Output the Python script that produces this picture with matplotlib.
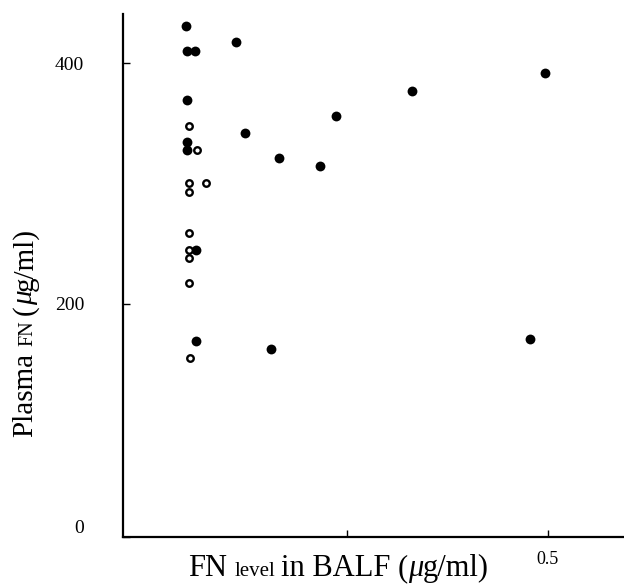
import matplotlib

matplotlib.use("Agg")
import matplotlib.pyplot as plt

W, H = 624, 587

# patients with FN detected in BALF (filled) and the others (open)
filled_x = [0.049, 0.050, 0.060, 0.111, 0.050, 0.1225, 0.050, 0.050, 0.164,
            0.216, 0.236, 0.330, 0.496, 0.061, 0.061, 0.155, 0.4775]
filled_y = [430.7, 410.0, 410.0, 417.4, 369.3, 341.9, 334.4, 327.8, 321.2,
            314.5, 356.0, 376.8, 391.7, 244.8, 169.3, 162.7, 171.0]
open_x = [0.0525, 0.0625, 0.0525, 0.0525, 0.074, 0.0525, 0.0525, 0.0525, 0.0525, 0.054]
open_y = [347.7, 327.8, 300.4, 293.0, 300.4, 258.9, 244.8, 238.2, 217.4, 155.2]

x_ticks = [0.25, 0.5]
x_tick_labels = ["", "0.5"]
y_ticks = [6, 200, 400]
y_tick_labels = ["0", "200", "400"]

plt.rcParams["font.family"] = ["Liberation Serif", "DejaVu Serif"]

fig = plt.figure(figsize=(W / 100, H / 100), dpi=100)
ax = fig.add_axes([123 / W, 50 / H, 501 / W, 523 / H])

ax.scatter(filled_x, filled_y, s=50, c="black", linewidths=0, zorder=3)
ax.scatter(open_x, open_y, s=22, facecolors="white", edgecolors="black",
           linewidths=1.7, zorder=3)

ax.set_xlim(-0.03, 0.595)
ax.set_ylim(6, 441)
ax.spines[["top", "right"]].set_visible(False)
for side in ("left", "bottom"):
    ax.spines[side].set_linewidth(1.6)

ax.set_xticks(x_ticks, x_tick_labels, fontsize=13)
ax.set_yticks(y_ticks, y_tick_labels, fontsize=14)
ax.tick_params(axis="both", direction="in", length=5, width=1)
ax.tick_params(axis="x", pad=10)
ax.tick_params(axis="y", pad=28)
# the "0" sits a little above the axis corner in the original
ax.get_yticklabels()[0].set_verticalalignment("bottom")


def rich_label(pieces, x, y, rotation=0):
    """Draw pieces of text with mixed sizes on one baseline (pixel coords)."""
    fig.canvas.draw()
    renderer = fig.canvas.get_renderer()
    for text, size, style, gap in pieces:
        t = fig.text(x / W, y / H, text, fontsize=size, style=style,
                     rotation=rotation, rotation_mode="anchor",
                     ha="left", va="baseline")
        bb = t.get_window_extent(renderer)
        step = gap * size * 100 / 72
        if rotation:
            y = bb.y1 + step
        else:
            x = bb.x1 + step


rich_label([("FN", 22, "normal", 0.25),
            ("level", 15, "normal", 0.25),
            ("in BALF", 22, "normal", 0.25),
            ("(", 22, "normal", 0.0),
            ("\u03bc", 22, "italic", 0.0),
            ("g/ml)", 22, "normal", 0.0)], 188, 11)

rich_label([("Plasma", 21, "normal", 0.25),
            ("FN", 14.5, "normal", 0.25),
            ("(", 21, "normal", 0.0),
            ("\u03bc", 21, "italic", 0.0),
            ("g/ml)", 21, "normal", 0.0)], 32, 150, rotation=90)

fig.savefig("out.png", dpi=100)
plt.close(fig)
